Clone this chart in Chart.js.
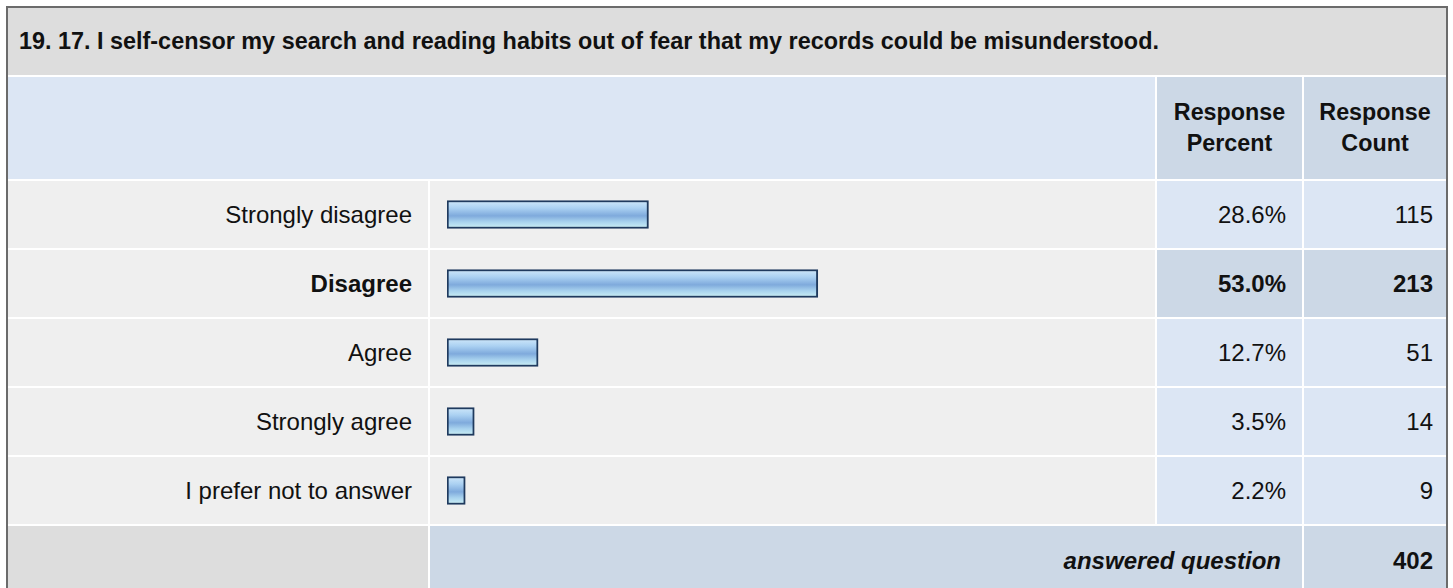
<!DOCTYPE html>
<html>
<head>
<meta charset="utf-8">
<script src="https://cdn.jsdelivr.net/npm/chart.js@4/dist/chart.umd.min.js"></script>
<style>
    html, body { margin: 0; padding: 0; background: #ffffff; overflow: hidden; }
    body { width: 1453px; height: 588px; position: relative; font-family: "Liberation Sans", Arial, sans-serif; color: #111; }
    .survey {
        position: absolute; left: 6px; top: 6px;
        border: 2px solid #6b6b6b; border-bottom: none;
        display: grid;
        grid-template-columns: 420px 725px 145px 142px;
        grid-template-rows: 67px 102px 67px 67px 67px 67px 67px 69px;
        gap: 2px;
        background: #ffffff;
    }
    .survey > div { display: flex; align-items: center; box-sizing: border-box; font-size: 24px; white-space: nowrap; }
    .title { grid-column: 1 / -1; background: #dddddd; font-weight: bold; padding-left: 11px; font-size: 23.4px !important; }
    .head-blank { grid-column: 1 / 3; background: #dce6f4; }
    .head { background: #ccd8e6; font-weight: bold; justify-content: center; text-align: center; line-height: 31px; font-size: 23.3px !important; }
    .label { background: #efefef; justify-content: flex-end; padding-right: 16px; }
    .bar-cell { background: #efefef; }
    .pct { background: #dce6f4; justify-content: flex-end; padding-right: 16px; }
    .cnt { background: #dce6f4; justify-content: flex-end; padding-right: 13px; }
    .top.pct, .top.cnt { font-weight: bold; background: #ccd8e6; }
    .foot-blank { background: #dddddd; }
    .foot-text { grid-column: 2 / 4; background: #ccd8e6; justify-content: flex-end; padding-right: 21px; font-weight: bold; font-style: italic; }
    .foot-cnt { background: #ccd8e6; justify-content: flex-end; padding-right: 13px; font-weight: bold; }
    #barChart { position: absolute; left: 430px; top: 180px; }
</style>
</head>
<body>
<div class="survey" id="survey"></div>
<canvas id="barChart" width="725" height="345"></canvas>
<script>
(function() {
    'use strict';

    const questionTitle = '19. 17. I self-censor my search and reading habits out of fear that my records could be misunderstood.';
    const categories = ['Strongly disagree', 'Disagree', 'Agree', 'Strongly agree', 'I prefer not to answer'];
    const percents = [28.6, 53.0, 12.7, 3.5, 2.2];
    const counts = [115, 213, 51, 14, 9];
    const answeredLabel = 'answered question';
    const answeredTotal = 402;

    const topIndex = percents.indexOf(Math.max.apply(null, percents));

    function cell(cls, html) {
        const el = document.createElement('div');
        el.className = cls;
        el.innerHTML = html;
        return el;
    }

    function buildTable() {
        const survey = document.getElementById('survey');
        survey.appendChild(cell('title', questionTitle));
        survey.appendChild(cell('head-blank', ''));
        survey.appendChild(cell('head', 'Response<br>Percent'));
        survey.appendChild(cell('head', 'Response<br>Count'));

        categories.forEach(function(name, i) {
            const isTop = i === topIndex;
            const lbl = cell('label', '');
            lbl.textContent = name;
            if (isTop) lbl.style.fontWeight = 'bold';
            survey.appendChild(lbl);
            survey.appendChild(cell('bar-cell', ''));
            survey.appendChild(cell('pct' + (isTop ? ' top' : ''), percents[i].toFixed(1) + '%'));
            survey.appendChild(cell('cnt' + (isTop ? ' top' : ''), String(counts[i])));
        });

        survey.appendChild(cell('foot-blank', ''));
        survey.appendChild(cell('foot-text', answeredLabel));
        survey.appendChild(cell('foot-cnt', String(answeredTotal)));
    }

    // glossy blue fill, one gradient per bar
    function barFill(context) {
        const chart = context.chart;
        if (!chart.chartArea || !chart.scales.y) return '#8fb9e4';
        const y = chart.scales.y.getPixelForValue(context.dataIndex);
        const g = chart.ctx.createLinearGradient(0, y - 13, 0, y + 13);
        g.addColorStop(0, '#cbe5f9');
        g.addColorStop(0.25, '#abd1f2');
        g.addColorStop(0.47, '#8ab4e2');
        g.addColorStop(0.55, '#7faadc');
        g.addColorStop(0.78, '#a8d2ee');
        g.addColorStop(1, '#c8edf4');
        return g;
    }

    function buildChart() {
        const ctx = document.getElementById('barChart');
        return new Chart(ctx, {
            type: 'bar',
            data: {
                labels: categories,
                datasets: [{
                    data: percents,
                    base: -0.43,
                    backgroundColor: barFill,
                    borderColor: '#1f3a5e',
                    borderWidth: 2,
                    borderSkipped: false,
                    barThickness: 28
                }]
            },
            options: {
                indexAxis: 'y',
                responsive: false,
                animation: false,
                devicePixelRatio: 1,
                layout: { padding: { left: 17, right: 11, top: 0, bottom: 0 } },
                plugins: {
                    legend: { display: false },
                    tooltip: { enabled: false }
                },
                scales: {
                    x: { display: false, min: -0.43, max: 100 },
                    y: { display: false }
                }
            }
        });
    }

    buildTable();
    buildChart();
})();
</script>
</body>
</html>
